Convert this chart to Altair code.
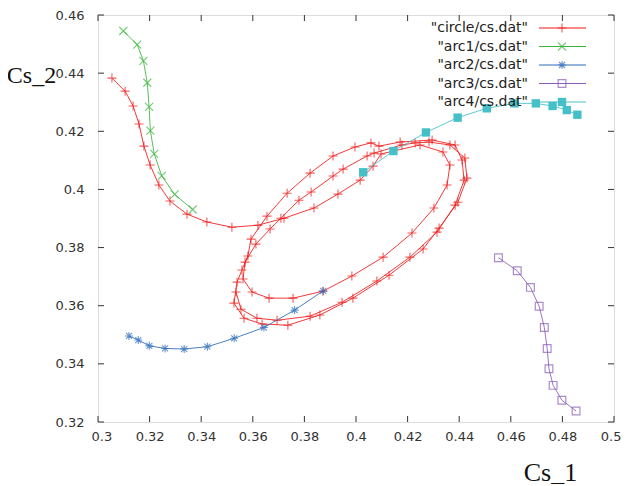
import altair as alt
import pandas as pd

# ---------------- data ----------------
circle_x = [0.3054, 0.3105, 0.3136, 0.3159, 0.3178, 0.3202, 0.3236, 0.3279, 0.3345, 0.3422, 0.3519, 0.3620,
            0.3721, 0.3837, 0.3930, 0.4016, 0.4066, 0.4097,
            0.4248, 0.4337, 0.4364, 0.4353, 0.4302,
            0.4217, 0.4105, 0.3984, 0.3872,
            0.3756, 0.3663, 0.3597, 0.3562,
            0.3570, 0.3612, 0.3667,
            0.3709, 0.3779, 0.3826, 0.3911, 0.3950, 0.4043, 0.4070,
            0.4178, 0.4229, 0.4283,
            0.4364, 0.4422, 0.4430, 0.4395, 0.4322,
            0.4260, 0.4128, 0.3988,
            0.3860, 0.3736, 0.3636, 0.3566,
            0.3527, 0.3539, 0.3558, 0.3581,
            0.3593, 0.3655, 0.3733, 0.3822, 0.3911, 0.3996, 0.4058, 0.4089,
            0.4171, 0.4295,
            0.4384, 0.4411, 0.4419, 0.4384, 0.4314,
            0.4209, 0.4081, 0.3946,
            0.3822, 0.3694, 0.3616, 0.3554,
            0.3535]
circle_y = [0.4383, 0.4338, 0.4287, 0.4225, 0.4149, 0.4084, 0.4015, 0.3960, 0.3915, 0.3888, 0.3870, 0.3877,
            0.3901, 0.3936, 0.3984, 0.4032, 0.4080, 0.4122,
            0.4153, 0.4129, 0.4084, 0.4015, 0.3936,
            0.3850, 0.3767, 0.3702, 0.3650,
            0.3626, 0.3626, 0.3647, 0.3692,
            0.3750, 0.3812, 0.3864,
            0.3901, 0.3963, 0.3991, 0.4046, 0.4070, 0.4115, 0.4125,
            0.4153, 0.4160, 0.4163,
            0.4153, 0.4108, 0.4039, 0.3956, 0.3867,
            0.3795, 0.3705, 0.3626,
            0.3568, 0.3533, 0.3537, 0.3557,
            0.3609, 0.3681, 0.3723, 0.3771,
            0.3829, 0.3908, 0.3987, 0.4056, 0.4115, 0.4146, 0.4160, 0.4149,
            0.4163, 0.4170,
            0.4153, 0.4101, 0.4032, 0.3946, 0.3853,
            0.3767, 0.3685, 0.3612,
            0.3564, 0.3550, 0.3557, 0.3588,
            0.3647]

arc1_x = [0.3098, 0.3152, 0.3176, 0.3191, 0.3198, 0.3203, 0.3218, 0.3247, 0.3297, 0.3367]
arc1_y = [0.4545, 0.4498, 0.4442, 0.4367, 0.4284, 0.4202, 0.4122, 0.4047, 0.3983, 0.3931]

arc2_x = [0.3120, 0.3156, 0.3199, 0.3260, 0.3334, 0.3424, 0.3528, 0.3643, 0.3762, 0.3873]
arc2_y = [0.3496, 0.3482, 0.3462, 0.3453, 0.3451, 0.3459, 0.3488, 0.3525, 0.3585, 0.3651]

arc3_x = [0.4552, 0.4625, 0.4676, 0.4710, 0.4730, 0.4741, 0.4748, 0.4764, 0.4798, 0.4853]
arc3_y = [0.3765, 0.3720, 0.3663, 0.3598, 0.3525, 0.3453, 0.3383, 0.3326, 0.3275, 0.3238]

arc4_x = [0.4028, 0.4145, 0.4271, 0.4394, 0.4507, 0.4614, 0.4697, 0.4762, 0.4817, 0.4858]
arc4_y = [0.4059, 0.4132, 0.4196, 0.4247, 0.4279, 0.4296, 0.4296, 0.4287, 0.4273, 0.4257]

series_names = ['"circle/cs.dat"', '"arc1/cs.dat"', '"arc2/cs.dat"', '"arc3/cs.dat"', '"arc4/cs.dat"']
x_ticks = [0.30, 0.32, 0.34, 0.36, 0.38, 0.40, 0.42, 0.44, 0.46, 0.48, 0.50]
y_ticks = [0.32, 0.34, 0.36, 0.38, 0.40, 0.42, 0.44, 0.46]

# ---------------- styling ----------------
W, H = 516, 407
colors = ["#f01818", "#3cb43c", "#2a6ab8", "#8a5cb8", "#45c0c8"]
PLUS = "M-1,0L1,0M0,-1L0,1"
CROSS = "M-1,-1L1,1M-1,1L1,-1"
STAR = "M-1,0L1,0M0,-1L0,1M-0.75,-0.75L0.75,0.75M-0.75,0.75L0.75,-0.75"
markers = [
    dict(shape=PLUS, filled=False, size=81, strokeWidth=1.1),
    dict(shape=CROSS, filled=False, size=64, strokeWidth=1.1),
    dict(shape=STAR, filled=False, size=64, strokeWidth=1.1),
    dict(shape="square", filled=False, size=60, strokeWidth=1.2),
    dict(shape="square", filled=True, size=70, strokeWidth=0, opacity=1),
]

xs = alt.Scale(domain=[0.3, 0.5], nice=False, zero=False)
ys = alt.Scale(domain=[0.32, 0.46], nice=False, zero=False)

x_axis = alt.Axis(values=x_ticks, format="~g", title="Cs_1", titleAngle=0,
                  titleX=452, titleY=58, titleAlign="center", titleBaseline="alphabetic",
                  titleFont="Liberation Serif", titleFontSize=26, titleFontWeight="normal",
                  titleColor="#111", labelFont="DejaVu Sans", labelFontSize=13,
                  labelColor="#333", labelPadding=8, ticks=False, domain=False,
                  grid=False, labelFlush=True, labelFlushOffset=7)
y_axis = alt.Axis(values=y_ticks, format="~g", title="Cs_2", titleAngle=0,
                  titleX=-67, titleY=60, titleAlign="center", titleBaseline="middle",
                  titleFont="Liberation Serif", titleFontSize=24, titleFontWeight="normal",
                  titleColor="#111", labelFont="DejaVu Sans", labelFontSize=13,
                  labelColor="#333", labelPadding=14, ticks=False, domain=False,
                  grid=False, labelFlush=False)


def X():
    return alt.X("cx:Q", scale=xs, axis=x_axis)


def Y():
    return alt.Y("cy:Q", scale=ys, axis=y_axis)


def frame(xv, yv, name):
    return pd.DataFrame({"cx": xv, "cy": yv, "idx": list(range(len(xv))), "name": name})


all_series = [(circle_x, circle_y), (arc1_x, arc1_y), (arc2_x, arc2_y), (arc3_x, arc3_y), (arc4_x, arc4_y)]

layers = []
for k, ((xv, yv), name) in enumerate(zip(all_series, series_names)):
    base = alt.Chart(frame(xv, yv, name))
    layers.append(base.mark_line(color=colors[k], strokeWidth=1, opacity=0.85)
                  .encode(x=X(), y=Y(), order="idx:Q"))
    layers.append(base.mark_point(color=colors[k], **markers[k]).encode(x=X(), y=Y()))

# inward ticks on all four sides
xt = pd.DataFrame({"cx": x_ticks})
yt = pd.DataFrame({"cy": y_ticks})
tick_col = "#333"
layers.append(alt.Chart(xt).mark_rule(color=tick_col, strokeWidth=1).encode(
    x=X(), y=alt.value(H), y2=alt.value(H - 6)))
layers.append(alt.Chart(xt).mark_rule(color=tick_col, strokeWidth=1).encode(
    x=X(), y=alt.value(0), y2=alt.value(6)))
layers.append(alt.Chart(yt).mark_rule(color=tick_col, strokeWidth=1).encode(
    y=Y(), x=alt.value(0), x2=alt.value(6)))
layers.append(alt.Chart(yt).mark_rule(color=tick_col, strokeWidth=1).encode(
    y=Y(), x=alt.value(W), x2=alt.value(W - 6)))

# gnuplot-style key (labels left, samples right)
for k, name in enumerate(series_names):
    yy = 13 + 18.5 * k
    lc = alt.Chart(pd.DataFrame({"t": [name]}))
    layers.append(lc.mark_text(align="right", baseline="middle", font="DejaVu Sans",
                               fontSize=14, color="#222").encode(
        x=alt.value(430), y=alt.value(yy), text="t:N"))
    layers.append(lc.mark_rule(color=colors[k], strokeWidth=1).encode(
        x=alt.value(441), x2=alt.value(488), y=alt.value(yy)))
    layers.append(lc.mark_point(color=colors[k], **markers[k]).encode(
        x=alt.value(464), y=alt.value(yy)))

chart = alt.layer(*layers).properties(
    width=W, height=H,
    padding={"left": 90, "top": 7, "right": 7, "bottom": 62},
    autosize=alt.AutoSizeParams(type="none"),
).configure_view(stroke="#444", strokeWidth=1.3).configure(background="white")

chart.save("out.html", embed_options={"renderer": "svg", "actions": False})
